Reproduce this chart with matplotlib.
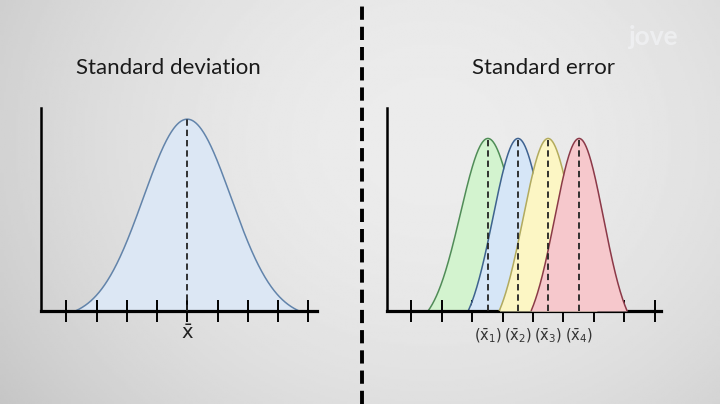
import numpy as np
import matplotlib
matplotlib.use("Agg")
import matplotlib.pyplot as plt
from matplotlib.lines import Line2D

W, H = 720, 404

# Axis ticks (same unit grid on both panels)
tick_pos = [1, 2, 3, 4, 5, 6, 7, 8, 9]

# Left panel: one population distribution
sd_mean = 5.0
sd_sigma = 1.45
sd_halfwidth = 3.7
sd_peak = 0.945

# Right panel: sampling distributions of four sample means
se_means = [3.52, 4.51, 5.50, 6.52]
se_sigmas = [0.90, 0.82, 0.82, 0.80]
se_halfwidths = [1.97, 1.64, 1.61, 1.58]
se_peak = 0.85
se_labels = [r"$(\bar{\mathrm{x}}_1)$", r"$(\bar{\mathrm{x}}_2)$",
             r"$(\bar{\mathrm{x}}_3)$", r"$(\bar{\mathrm{x}}_4)$"]
se_fills = ["#d3f3cf", "#d6e6f7", "#fcf6c4", "#f6c8cc"]
se_edges = ["#4f8d56", "#3e6290", "#b3ab5c", "#8b3948"]

titles = ["Standard deviation", "Standard error"]


def bell(x, mu, sigma, half, peak):
    # normal shape, trimmed so the tails reach the axis at mu +/- half
    g = np.exp(-0.5 * ((x - mu) / sigma) ** 2)
    c = np.exp(-0.5 * (half / sigma) ** 2)
    y = (g - c) / (1 - c)
    y[np.abs(x - mu) > half] = 0
    return np.clip(y, 0, None) * peak


def px_axes(fig, left, right, bottom, top):
    return fig.add_axes([left / W, 1 - bottom / H, (right - left) / W, (bottom - top) / H])


def style_axes(ax):
    ax.set_facecolor("none")
    for s in ["top", "right"]:
        ax.spines[s].set_visible(False)
    ax.spines["bottom"].set_linewidth(2.3)
    ax.spines["left"].set_linewidth(1.8)
    ax.set_ylim(0, 1)
    ax.set_yticks([])
    ax.set_xticks(tick_pos)
    ax.set_xticklabels([])
    ax.tick_params(axis="x", direction="inout", length=16, width=1.4, color="black")


fig = plt.figure(figsize=(W / 100, H / 100), dpi=100)

# soft grey vignette background
bg = fig.add_axes([0, 0, 1, 1], zorder=-10)
gx, gy = np.meshgrid(np.linspace(0, 1, 300), np.linspace(0, 1, 200))
shade = 0.925 - 0.10 * ((gx - 0.6) / 0.6) ** 2 - 0.05 * ((gy - 0.35) / 0.65) ** 2
bg.imshow(shade, cmap="gray", vmin=0, vmax=1, aspect="auto", extent=[0, 1, 0, 1])
bg.axis("off")

# ---- left: standard deviation ----
axL = px_axes(fig, 41, 317, 311, 108)
axL.set_xlim((41 - 36.0) / 30.25, (317 - 36.0) / 30.25)
style_axes(axL)
xs = np.linspace(*axL.get_xlim(), 600)
ys = bell(xs, sd_mean, sd_sigma, sd_halfwidth, sd_peak)
axL.fill_between(xs, 0, ys, color="#dce7f4", lw=0, zorder=1)
axL.plot(xs, ys, color="#6284ab", lw=1.1, zorder=2)
axL.plot([sd_mean, sd_mean], [0, sd_peak], color="#222222", lw=1.3,
         dashes=(3.5, 2.2), zorder=3)
axL.text(sd_mean, -0.11, r"$\bar{\mathrm{x}}$", ha="center", va="center",
         fontsize=14, color="#222222")

# ---- right: standard error ----
axR = px_axes(fig, 387, 661, 311, 108)
axR.set_xlim((387 - 380.9) / 30.4, (661 - 380.9) / 30.4)
style_axes(axR)
xs = np.linspace(*axR.get_xlim(), 800)
for i, (mu, sg, hw) in enumerate(zip(se_means, se_sigmas, se_halfwidths)):
    ys = bell(xs, mu, sg, hw, se_peak)
    m = ys > 0
    axR.fill_between(xs[m], 0, ys[m], color=se_fills[i], lw=0, zorder=1 + i)
    axR.plot(xs[m], ys[m], color=se_edges[i], lw=1.1, zorder=1 + i)
for mu, lab in zip(se_means, se_labels):
    axR.plot([mu, mu], [0, se_peak], color="#222222", lw=1.3,
             dashes=(3.5, 2.2), zorder=10)
    axR.text(mu, -0.12, lab, ha="center", va="center", fontsize=10.5,
             color="#333333")

# titles
fig.text(168 / W, 1 - 68 / H, titles[0], ha="center", va="center",
         fontsize=16, family="Lato", color="#1a1a1a")
fig.text(543 / W, 1 - 68 / H, titles[1], ha="center", va="center",
         fontsize=16, family="Lato", color="#1a1a1a")

# dashed divider
fig.add_artist(Line2D([362 / W, 362 / W], [0, 1], transform=fig.transFigure,
                      color="black", lw=2.8, dashes=(3.4, 1.8)))

# faint watermark
fig.text(654 / W, 1 - 37 / H, "jove", ha="center", va="center", fontsize=19,
         family="Lato", fontweight="bold", color="#f7f8fb", alpha=0.55)

fig.savefig("out.png", dpi=100)
